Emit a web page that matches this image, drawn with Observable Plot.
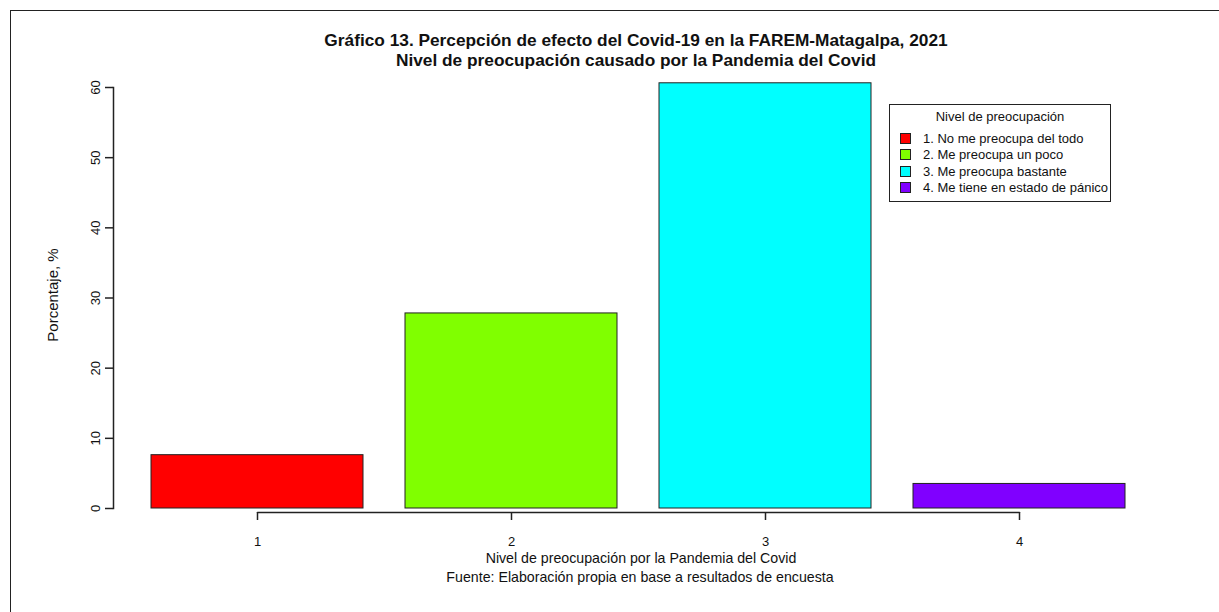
<!DOCTYPE html>
<html>
<head>
<meta charset="utf-8">
<script src="https://cdn.jsdelivr.net/npm/d3@7"></script>
<script src="https://cdn.jsdelivr.net/npm/@observablehq/plot@0.6"></script>
<style>
  html, body { margin: 0; padding: 0; background: #fff; }
  body { font-family: "Liberation Sans", Arial, sans-serif; color: #111; }
  #wrap { position: relative; width: 1219px; height: 612px; overflow: hidden; background: #fff; }
  #border { position: absolute; left: 10px; top: 10px; right: -5px; bottom: -5px; border-top: 1.5px solid #222; border-left: 1.5px solid #222; pointer-events: none; }
  .ctr { position: absolute; transform: translate(-50%, -50%); white-space: nowrap; }
  .title { font-weight: bold; font-size: 17.3px; }
  .cap { font-size: 14.2px; }
  #legend { position: absolute; left: 889px; top: 104px; width: 220px; height: 96px; border: 1px solid #222; box-sizing: content-box; font-size: 13px; }
  #legend .lt { position: absolute; left: 0; width: 100%; top: 4px; text-align: center; }
  #legend .row { position: absolute; left: 10px; height: 16px; line-height: 16px; }
  #legend .sw { display: inline-block; width: 9px; height: 9px; border: 1px solid #222; vertical-align: middle; margin-right: 12px; position: relative; top: -1px; }
  #plot { position: absolute; left: 0; top: 0; }
</style>
</head>
<body>
<div id="wrap">
  <div id="plot"></div>
  <div id="border"></div>
</div>
<script>
// ---- data ----
const categories = ["1", "2", "3", "4"];
const values = [7.6, 27.8, 60.6, 3.5];
const legendLabels = [
  "1. No me preocupa del todo",
  "2. Me preocupa un poco",
  "3. Me preocupa bastante",
  "4. Me tiene en estado de pánico"
];
const colors = ["#FF0000", "#80FF00", "#00FFFF", "#8000FF"];
const yTicks = [0, 10, 20, 30, 40, 50, 60];
const titleText = "Gráfico 13. Percepción de efecto del Covid-19 en la FAREM-Matagalpa, 2021";
const subtitleText = "Nivel de preocupación causado por la Pandemia del Covid";
const xLabelText = "Nivel de preocupación por la Pandemia del Covid";
const captionText = "Fuente: Elaboración propia en base a resultados de encuesta";
const yLabelText = "Porcentaje, %";
const legendTitle = "Nivel de preocupación";

const data = categories.map((c, i) => ({cat: c, value: values[i], label: legendLabels[i]}));

const chart = Plot.plot({
  width: 1219,
  height: 612,
  marginLeft: 113,
  marginRight: 73,
  marginTop: 87,
  marginBottom: 104,
  style: {fontFamily: '"Liberation Sans", Arial, sans-serif', fontSize: "13px", color: "#111", background: "transparent", overflow: "visible"},
  x: {type: "band", domain: categories, paddingInner: 1 / 6, paddingOuter: 1 / 12, insetLeft: 17, axis: null},
  y: {domain: [0, 60], axis: null},
  color: {type: "ordinal", domain: categories, range: colors},
  marks: [
    Plot.barY(data, {x: "cat", y: "value", fill: "cat", stroke: "#222", strokeWidth: 1}),
    Plot.frame({anchor: "left", stroke: "#222", strokeWidth: 1.5}),
    Plot.axisY({ticks: yTicks, tickSize: 8, tickRotate: -90, tickPadding: 6, label: null, stroke: "#222", strokeWidth: 1.5, fontSize: 13}),
    Plot.line(categories, {x: d => d, y: 0, dy: 4, stroke: "#222", strokeWidth: 1.5}),
    Plot.axisX({tickSize: 8, tickPadding: 16, dy: 4, label: null, stroke: "#222", strokeWidth: 1.5, fontSize: 13}),
    Plot.text([yLabelText], {frameAnchor: "left", textAnchor: "middle", rotate: -90, dx: -60, dy: -3, fontSize: 15, fill: "#111"})
  ]
});
document.getElementById("plot").appendChild(chart);

// ---- titles & captions ----
const wrap = document.getElementById("wrap");
function addText(txt, cls, x, y) {
  const d = document.createElement("div");
  d.className = "ctr " + cls;
  d.style.left = x + "px";
  d.style.top = y + "px";
  d.textContent = txt;
  wrap.appendChild(d);
}
addText(titleText, "title", 636, 40);
addText(subtitleText, "title", 636, 60);
addText(xLabelText, "cap", 641, 558);
addText(captionText, "cap", 640, 577);

// ---- legend ----
const leg = document.createElement("div");
leg.id = "legend";
const lt = document.createElement("div");
lt.className = "lt";
lt.textContent = legendTitle;
leg.appendChild(lt);
legendLabels.forEach((lab, i) => {
  const r = document.createElement("div");
  r.className = "row";
  r.style.top = (26 + i * 16.3) + "px";
  const sw = document.createElement("span");
  sw.className = "sw";
  sw.style.background = colors[i];
  r.appendChild(sw);
  r.appendChild(document.createTextNode(lab));
  leg.appendChild(r);
});
wrap.appendChild(leg);
</script>
</body>
</html>
